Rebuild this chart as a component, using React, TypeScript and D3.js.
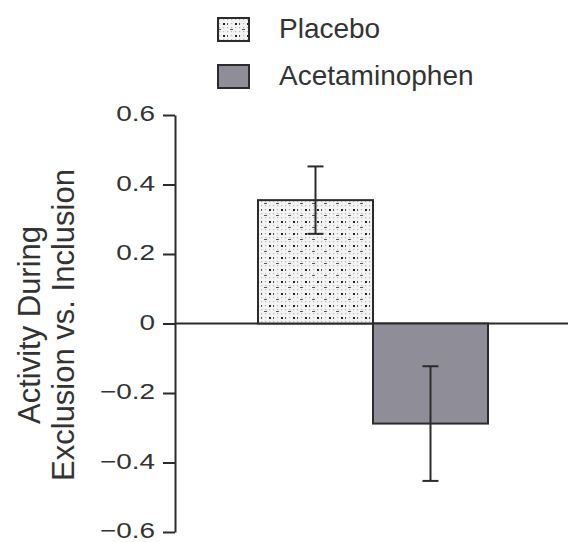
import { useRef, useEffect } from "react";
import * as d3 from "d3";

const groups = ["Placebo", "Acetaminophen"];
const means = [0.355, -0.288];
const errors = [0.097, 0.165];
const yTicks = [-0.6, -0.4, -0.2, 0, 0.2, 0.4, 0.6];
const yLabel = ["Activity During", "Exclusion vs. Inclusion"];

const W = 570;
const H = 542;
const FONT = "Liberation Sans, Arial, sans-serif";
const INK = "#2b2b2b";
const GRAY = "#8e8d98";

export default function App() {
  const svgRef = useRef<SVGSVGElement>(null);

  useEffect(() => {
    const svg = d3.select(svgRef.current);
    svg.selectAll("*").remove();

    // stipple pattern for placebo
    const defs = svg.append("defs");
    const pat = defs
      .append("pattern")
      .attr("id", "stip")
      .attr("patternUnits", "userSpaceOnUse")
      .attr("width", 12)
      .attr("height", 12);
    pat.append("rect").attr("width", 12).attr("height", 12).attr("fill", "#f4f4f4");
    for (let i = 0; i < 3; i++) {
      for (let j = 0; j < 3; j++) {
        pat
          .append("rect")
          .attr("x", i * 4 + 1)
          .attr("y", j * 4 + 1)
          .attr("width", 1.2)
          .attr("height", 1.2)
          .attr("fill", "#b8b8b8");
      }
    }
    pat.append("rect").attr("x", 5).attr("y", 5).attr("width", 2).attr("height", 2).attr("fill", "#222");
    pat.append("rect").attr("x", 0).attr("y", 11).attr("width", 3).attr("height", 1).attr("fill", "#555");
    pat.append("rect").attr("x", 9).attr("y", 5).attr("width", 1).attr("height", 2).attr("fill", "#555");

    const y = d3.scaleLinear().domain([-0.6, 0.6]).range([532, 115]);
    const x = d3.scaleBand().domain(groups).range([258, 488]).padding(0);
    const axisX = 175;

    // zero line
    svg
      .append("line")
      .attr("x1", axisX)
      .attr("x2", 568)
      .attr("y1", y(0))
      .attr("y2", y(0))
      .attr("stroke", INK)
      .attr("stroke-width", 2);

    // bars
    svg
      .selectAll("rect.bar")
      .data(groups)
      .join("rect")
      .attr("class", "bar")
      .attr("x", (d) => x(d)!)
      .attr("width", x.bandwidth())
      .attr("y", (d, i) => y(Math.max(0, means[i])))
      .attr("height", (d, i) => Math.abs(y(means[i]) - y(0)))
      .attr("fill", (d, i) => (i === 0 ? "url(#stip)" : GRAY))
      .attr("stroke", INK)
      .attr("stroke-width", 2);

    // error bars
    const eb = svg
      .selectAll("g.err")
      .data(groups)
      .join("g")
      .attr("class", "err")
      .attr("stroke", INK)
      .attr("stroke-width", 2);
    const cx = (d: string) => x(d)! + x.bandwidth() / 2;
    eb.append("line")
      .attr("x1", cx)
      .attr("x2", cx)
      .attr("y1", (d, i) => y(means[i] + errors[i]))
      .attr("y2", (d, i) => y(means[i] - errors[i]));
    eb.append("line")
      .attr("x1", (d) => cx(d) - 8)
      .attr("x2", (d) => cx(d) + 8)
      .attr("y1", (d, i) => y(means[i] + errors[i]))
      .attr("y2", (d, i) => y(means[i] + errors[i]));
    eb.append("line")
      .attr("x1", (d) => cx(d) - 8)
      .attr("x2", (d) => cx(d) + 8)
      .attr("y1", (d, i) => y(means[i] - errors[i]))
      .attr("y2", (d, i) => y(means[i] - errors[i]));

    // y axis (labels are wide: 22px type stretched horizontally)
    const sx = 1.27;
    const yAxis = d3
      .axisLeft(y)
      .tickValues(yTicks)
      .tickSize(12)
      .tickSizeOuter(0)
      .tickFormat((d) => (d === 0 ? "0" : d3.format(".1f")(d as number).replace("-", "\u2013")));
    const ag = svg.append("g").attr("transform", `translate(${axisX},0)`).call(yAxis);
    ag.select(".domain").attr("stroke", INK).attr("stroke-width", 2);
    ag.selectAll(".tick line").attr("stroke", INK).attr("stroke-width", 2);
    ag.selectAll(".tick text")
      .attr("fill", "#333")
      .style("font-family", FONT)
      .style("font-size", "22px")
      .attr("x", -20 / sx)
      .attr("dy", "0.25em")
      .attr("transform", `scale(${sx},1)`);

    // y label
    yLabel.forEach((t, i) => {
      svg
        .append("text")
        .attr("transform", `translate(${40 + i * 34},325) rotate(-90)`)
        .attr("text-anchor", "middle")
        .attr("fill", "#333")
        .style("font-family", FONT)
        .style("font-size", "31px")
        .text(t);
    });

    // legend
    const lg = svg
      .selectAll("g.leg")
      .data(groups)
      .join("g")
      .attr("class", "leg")
      .attr("transform", (d, i) => `translate(218,${18 + i * 47})`);
    lg.append("rect")
      .attr("width", 31)
      .attr("height", 23)
      .attr("fill", (d, i) => (i === 0 ? "url(#stip)" : GRAY))
      .attr("stroke", INK)
      .attr("stroke-width", 2);
    lg.append("text")
      .attr("x", 61)
      .attr("y", 20)
      .attr("fill", "#333")
      .style("font-family", FONT)
      .style("font-size", "28px")
      .text((d) => d);
  }, []);

  return (
    <svg
      ref={svgRef}
      width={W}
      height={H}
      style={{ position: "absolute", left: 0, top: 0, background: "#fff" }}
    ></svg>
  );
}
